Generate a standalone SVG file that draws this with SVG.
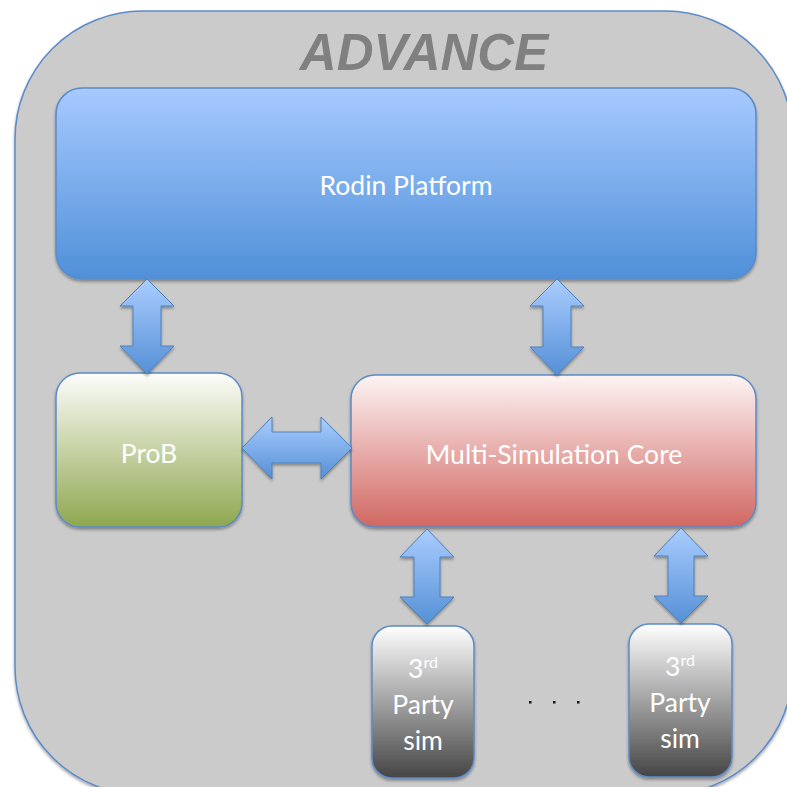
<svg xmlns="http://www.w3.org/2000/svg" width="787" height="787" viewBox="0 0 787 787">
<defs>
<linearGradient id="gBlue" x1="0" y1="0" x2="0" y2="1"><stop offset="0" stop-color="#a7caff"/><stop offset="1" stop-color="#4f90d8"/></linearGradient>
<linearGradient id="gArrow" x1="0" y1="0" x2="0" y2="1"><stop offset="0" stop-color="#aacdff"/><stop offset="1" stop-color="#5590d6"/></linearGradient>
<linearGradient id="gGreen" x1="0" y1="0" x2="0" y2="1"><stop offset="0" stop-color="#fdfdfb"/><stop offset="1" stop-color="#8fa74f"/></linearGradient>
<linearGradient id="gRed" x1="0" y1="0" x2="0" y2="1"><stop offset="0" stop-color="#fdf4f4"/><stop offset="1" stop-color="#d16762"/></linearGradient>
<linearGradient id="gGray" x1="0" y1="0" x2="0" y2="1"><stop offset="0" stop-color="#ffffff"/><stop offset="1" stop-color="#454545"/></linearGradient>
<filter id="sh" x="-10%" y="-10%" width="120%" height="125%"><feDropShadow dx="0" dy="2" stdDeviation="1.5" flood-color="#000" flood-opacity="0.35"/></filter>
</defs>
<style>
.box{stroke:#5b8bc9;stroke-width:1.5;filter:url(#sh)}
.arr{fill:url(#gArrow);stroke:#4f81bd;stroke-width:1;filter:url(#sh)}
.lbl{font-family:Lato,"Open Sans","Liberation Sans",sans-serif;fill:#ffffff;text-anchor:middle}
</style>
<g id="advance">
<rect x="15" y="11" width="778" height="784" rx="128" ry="128" fill="#cbcbcb" stroke="#5b8bc9" stroke-width="1.5" filter="url(#sh)"/>
<text x="424" y="70" font-family="'Liberation Sans',Arial,sans-serif" font-weight="bold" font-style="italic" font-size="51" fill="#808080" text-anchor="middle">ADVANCE</text>
</g>
<g id="rodin">
<rect class="box" x="56" y="88" width="700" height="191" rx="26" fill="url(#gBlue)"/>
<text class="lbl" x="406" y="195" font-size="26.5">Rodin Platform</text>
</g>
<g id="prob">
<rect class="box" x="56" y="373" width="186" height="154" rx="24" fill="url(#gGreen)"/>
<text class="lbl" x="149" y="463" font-size="26.5">ProB</text>
</g>
<g id="core">
<rect class="box" x="351" y="375" width="405" height="152" rx="24" fill="url(#gRed)"/>
<text class="lbl" x="554" y="464" font-size="26.5">Multi-Simulation Core</text>
</g>
<g id="sim1">
<rect class="box" x="372" y="626" width="102" height="152" rx="20" fill="url(#gGray)"/>
<text class="lbl" x="423" y="678" font-size="26.5">3<tspan font-size="16" dy="-10">rd</tspan></text>
<text class="lbl" x="423" y="714" font-size="26.5">Party</text>
<text class="lbl" x="423" y="750" font-size="26.5">sim</text>
</g>
<g id="sim2">
<rect class="box" x="629" y="624" width="103" height="153" rx="20" fill="url(#gGray)"/>
<text class="lbl" x="680" y="676" font-size="26.5">3<tspan font-size="16" dy="-10">rd</tspan></text>
<text class="lbl" x="680" y="712" font-size="26.5">Party</text>
<text class="lbl" x="680" y="748" font-size="26.5">sim</text>
</g>
<g id="dots" fill="#111">
<rect x="529" y="701" width="2.5" height="2.5"/>
<rect x="553" y="701" width="2.5" height="2.5"/>
<rect x="577" y="701" width="2.5" height="2.5"/>
</g>
<g id="connectors">
<path class="arr" d="M147,279 L174,306 L161,306 L161,346 L174,346 L147,374 L120,346 L133,346 L133,306 L120,306 Z"/>
<path class="arr" d="M557,279 L584,306 L571,306 L571,347 L584,347 L557,375 L530,347 L543,347 L543,306 L530,306 Z"/>
<path class="arr" d="M242,448 L272,417 L272,432 L321,432 L321,417 L352,448 L321,479 L321,463 L272,463 L272,479 Z"/>
<path class="arr" d="M427,529 L454,557 L440,557 L440,597 L454,597 L427,624 L400,597 L414,597 L414,557 L400,557 Z"/>
<path class="arr" d="M681,528 L708,556 L694,556 L694,596 L708,596 L681,623 L654,596 L668,596 L668,556 L654,556 Z"/>
</g>
</svg>
